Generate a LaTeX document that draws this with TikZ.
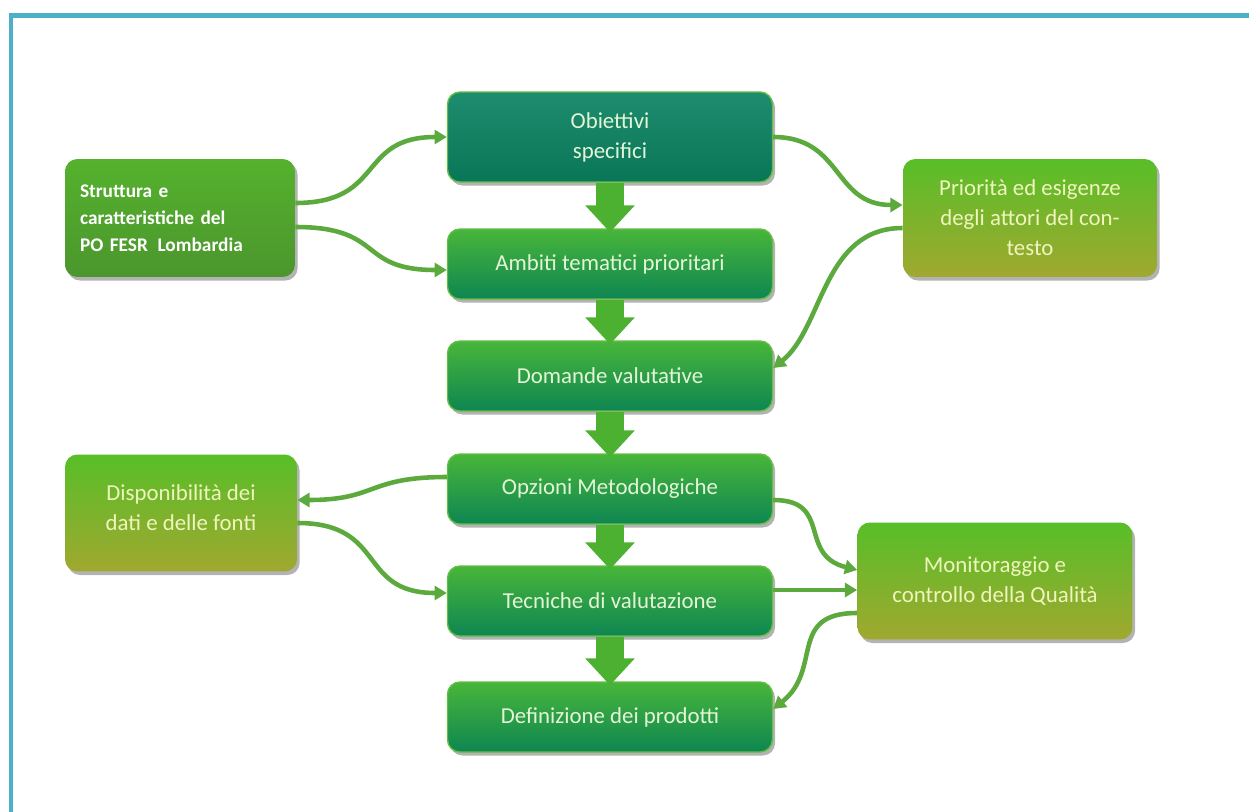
\documentclass[tikz,border=0pt]{standalone}
\usepackage{fontspec}
\setmainfont{Carlito}
\usetikzlibrary{calc,shadows,arrows.meta}

\definecolor{frameblue}{RGB}{75,176,200}
\definecolor{linkgreen}{RGB}{92,170,62}
\definecolor{fatgreen}{RGB}{76,176,48}
\definecolor{objtop}{RGB}{30,140,110}
\definecolor{objbot}{RGB}{10,118,88}
\definecolor{maintop}{RGB}{72,182,58}
\definecolor{mainbot}{RGB}{14,134,82}
\definecolor{mainedge}{RGB}{100,190,70}
\definecolor{sidetop}{RGB}{88,190,40}
\definecolor{sidebot}{RGB}{160,168,48}
\definecolor{strtop}{RGB}{85,178,45}
\definecolor{strbot}{RGB}{75,150,45}
\definecolor{maintext}{RGB}{228,245,215}
\definecolor{sidetext}{RGB}{240,245,190}

\begin{document}
\begin{tikzpicture}[x=0.02cm, y=-0.02cm,
  box/.style={rounded corners=7pt, align=center, font=\fontsize{13}{17}\selectfont,
    drop shadow={shadow xshift=1.5pt, shadow yshift=-2pt, opacity=.6}},
  main/.style={box, minimum width=6.5cm, minimum height=1.4cm, draw=mainedge, line width=0.8pt,
    top color=maintop, bottom color=mainbot, text=maintext},
  side/.style={box, top color=sidetop, bottom color=sidebot, text=sidetext},
  link/.style={linkgreen, line width=2.6pt, -{Triangle[length=7pt,width=8pt]}},
  bigarrow/.style={fatgreen, line width=0.56cm, -{Triangle[length=0.54cm,width=0.96cm]}},
  frame/.style={frameblue, line width=2.4pt}]

  \useasboundingbox (0,0) rectangle (1249,812);
  \draw[frame] (1249,15.5) -- (11,15.5) -- (11,812);

  % Nodes
  % Central column
  \node[main, minimum height=1.8cm, top color=objtop, bottom color=objbot] (obj) at (610,137) {Obiettivi\\specifici};
  \node[main] (amb) at (610,264) {Ambiti tematici prioritari};
  \node[main] (dom) at (610,376) {Domande valutative};
  \node[main] (opz) at (610,489) {Opzioni Metodologiche};
  \node[main] (tec) at (610,601) {Tecniche di valutazione};
  \node[main] (def) at (610,717) {Definizione dei prodotti};

  % Left side
  \node[side, top color=strtop, bottom color=strbot, text=white, font=\fontsize{11}{15.3}\selectfont\bfseries,
    text width=4cm, align=left, inner xsep=0.3cm, minimum height=2.36cm] (str) at (180,218)
    {Struttura e\\caratteristiche del\\PO FESR\hspace{0.5em}Lombardia};
  \node[side, minimum width=4.64cm, minimum height=2.34cm] (dis) at (181,513) {Disponibilità dei\\dati e delle fonti\\[-11pt]\mbox{}};

  % Right side
  \node[side, minimum width=5.08cm, minimum height=2.36cm] (pri) at (1030,218) {Priorità ed esigenze\\degli attori del con-\\testo};
  \node[side, minimum width=5.5cm, minimum height=2.34cm] (mon) at (995,581) {Monitoraggio e\\controllo della Qualità};

  % Arrows
  \foreach \a/\b in {obj/amb, amb/dom, dom/opz, opz/tec, tec/def}
    \draw[bigarrow] (\a.south) -- ($(\b.north)+(0,4)$);

  \draw[link] ($(str.east)+(0,-15)$) .. controls +(90,0) and +(-90,0) .. (obj.west);
  \draw[link] ($(str.east)+(0,9)$) .. controls +(90,0) and +(-90,0) .. ($(amb.west)+(0,6)$);

  \draw[link] (obj.east) .. controls +(70,0) and +(-70,0) .. ($(pri.west)+(0,-13)$);
  \draw[link] ($(pri.west)+(0,10)$) .. controls +(-80,0) and +(50,-40) .. ($(dom.east)+(0,-8)$);

  \draw[link] ($(opz.west)+(0,-12)$) .. controls +(-80,0) and +(80,0) .. ($(dis.east)+(0,-13)$);
  \draw[link] ($(dis.east)+(0,10)$) .. controls +(90,0) and +(-90,0) .. ($(tec.west)+(0,-8)$);

  \draw[link] ($(opz.east)+(0,11)$) .. controls +(60,0) and +(-60,-15) .. ($(mon.west)+(0,-11)$);
  \draw[link] ($(tec.east)+(0,-11)$) -- ($(mon.west)+(0,9)$);
  \draw[link] ($(mon.west)+(0,32)$) .. controls +(-70,0) and +(50,-40) .. ($(def.east)+(0,-8)$);

\end{tikzpicture}
\end{document}
